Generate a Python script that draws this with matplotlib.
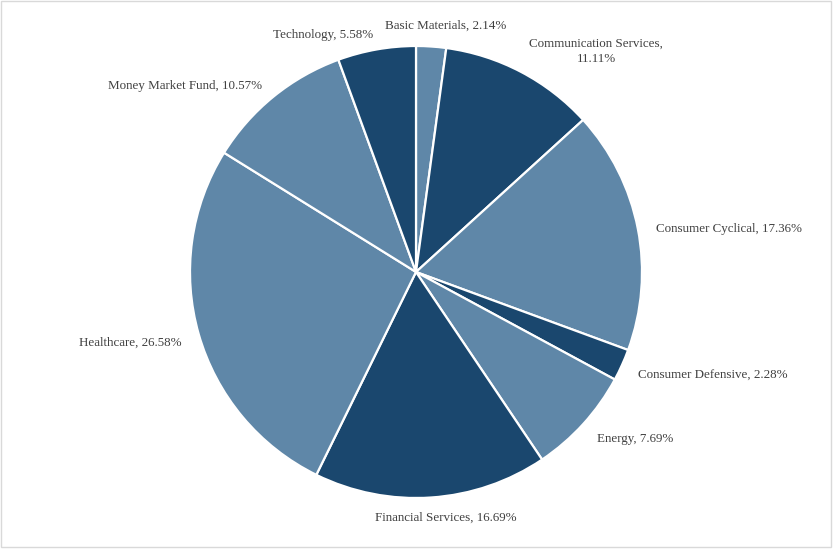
import matplotlib
matplotlib.use('Agg')
import matplotlib.pyplot as plt
import numpy as np
from matplotlib.patches import Rectangle

# sector weights, clockwise from 12 o'clock
sectors = ['Basic Materials', 'Communication Services', 'Consumer Cyclical',
           'Consumer Defensive', 'Energy', 'Financial Services', 'Healthcare',
           'Money Market Fund', 'Technology']
weights = [2.14, 11.11, 17.36, 2.28, 7.69, 16.69, 26.58, 10.57, 5.58]

light = '#5f87a8'
dark = '#1a476e'
colors = [light, dark, light, dark, light, dark, light, light, dark]

plt.rcParams['font.family'] = ['Liberation Serif', 'DejaVu Serif']

W, H = 833, 549
fig = plt.figure(figsize=(W / 100, H / 100), dpi=100)
cx, cy, r = 416, 272, 226
ax = fig.add_axes([(cx - r) / W, (H - cy - r) / H, 2 * r / W, 2 * r / H])

wedges, _ = ax.pie(weights, colors=colors, startangle=90, counterclock=False,
                   radius=1.0, wedgeprops=dict(edgecolor='white', linewidth=1.6))
ax.set_xlim(-1, 1)
ax.set_ylim(-1, 1)
ax.set_aspect('equal')

for w, name, val in zip(wedges, sectors, weights):
    ang = np.deg2rad((w.theta1 + w.theta2) / 2)
    x, y = np.cos(ang), np.sin(ang)
    label = f'{name}, {val:.2f}%'
    if name == 'Communication Services':
        label = f'{name},\n{val:.2f}%'
    if abs(x) < 0.15:
        ha = 'center'
        tx, ty = x + 0.065, 1.09 * y
    else:
        ha = 'left' if x > 0 else 'right'
        tx, ty = 1.08 * x, 1.08 * y - 0.015
    if '\n' in label:
        ty += 0.035
    ax.text(tx, ty, label, ha=ha, va='center', linespacing=1.3,
            fontsize=9.4, color='#404040', multialignment='center', clip_on=False)

fig.patches.append(Rectangle((0.5 / W, 2.5 / H), 1 - 2.5 / W, 1 - 3.5 / H,
                             transform=fig.transFigure, fill=False,
                             edgecolor='#d9d9d9', linewidth=1.0))

fig.savefig('out.png', dpi=100, facecolor='white')
